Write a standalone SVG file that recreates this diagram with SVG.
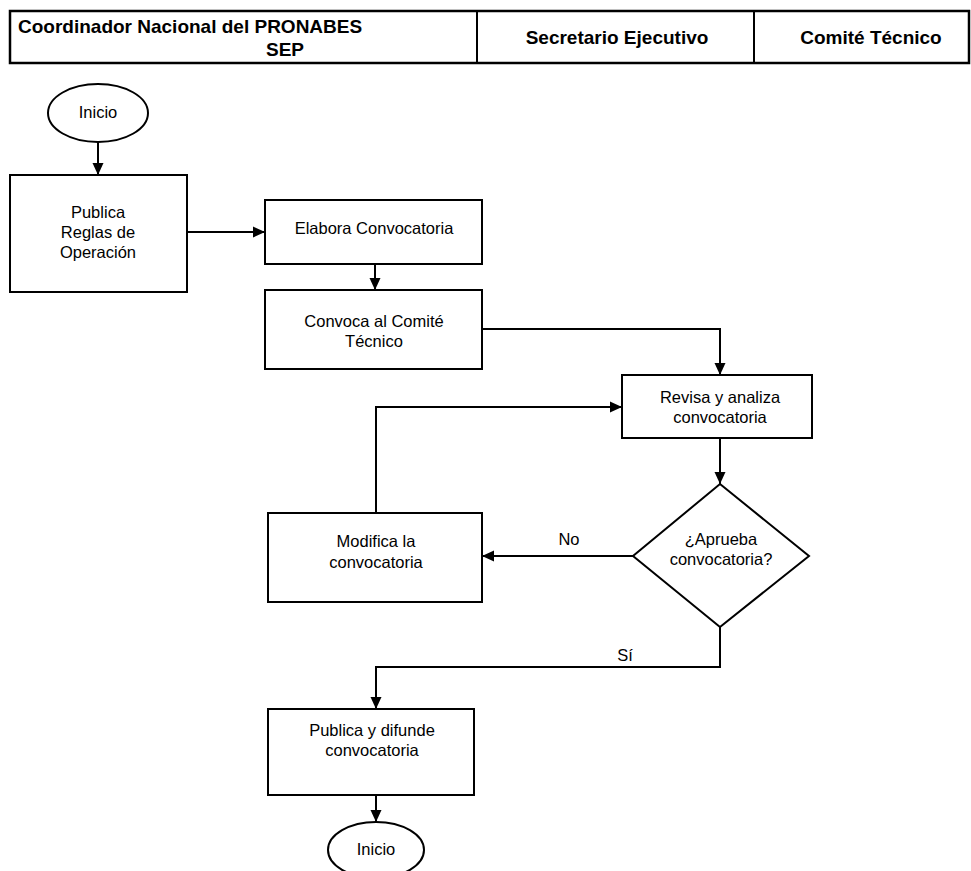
<svg xmlns="http://www.w3.org/2000/svg" width="971" height="871" viewBox="0 0 971 871">
<defs>
<marker id="ah" markerWidth="12" markerHeight="12" refX="12" refY="6" orient="auto" markerUnits="userSpaceOnUse"><path d="M0,0.5 L12,6 L0,11.5 Z" fill="#000"/></marker>
<style>
.box{fill:#fff;stroke:#000;stroke-width:2}
.t{font-family:"Liberation Sans",Arial,sans-serif;font-size:16.5px;fill:#000;text-anchor:middle}
.h{font-family:"Liberation Sans",Arial,sans-serif;font-size:19px;font-weight:bold;fill:#000}
.c{fill:none;stroke:#000;stroke-width:2}
</style>
</defs>
<rect width="971" height="871" fill="#fff"/>
<g id="header">
<rect x="10" y="11" width="959" height="52" fill="#fff" stroke="#000" stroke-width="2.5"/>
<line x1="477" y1="11" x2="477" y2="63" stroke="#000" stroke-width="2"/>
<line x1="754" y1="11" x2="754" y2="63" stroke="#000" stroke-width="2"/>
<text class="h" x="18" y="33">Coordinador Nacional del PRONABES</text>
<text class="h" x="266" y="56">SEP</text>
<text class="h" x="617" y="44" text-anchor="middle">Secretario Ejecutivo</text>
<text class="h" x="871" y="44" text-anchor="middle">Comité Técnico</text>
</g>
<g id="connectors">
<line class="c" x1="98" y1="142" x2="98" y2="175" marker-end="url(#ah)"/>
<line class="c" x1="187" y1="232" x2="265" y2="232" marker-end="url(#ah)"/>
<line class="c" x1="375" y1="264" x2="375" y2="290" marker-end="url(#ah)"/>
<polyline class="c" points="482,329 720,329 720,375" marker-end="url(#ah)"/>
<polyline class="c" points="376,513 376,407 622,407" marker-end="url(#ah)"/>
<line class="c" x1="720" y1="438" x2="720" y2="484" marker-end="url(#ah)"/>
<line class="c" x1="633" y1="556" x2="482" y2="556" marker-end="url(#ah)"/>
<polyline class="c" points="720,627 720,667 376,667 376,709" marker-end="url(#ah)"/>
<line class="c" x1="376" y1="795" x2="376" y2="822" marker-end="url(#ah)"/>
<text class="t" x="569" y="545">No</text>
<text class="t" x="625" y="661">Sí</text>
</g>
<g id="inicio1"><ellipse class="box" cx="98" cy="113" rx="50" ry="29"/><text class="t" x="98" y="118">Inicio</text></g>
<g id="publica"><rect class="box" x="10" y="175" width="177" height="117"/><text class="t" x="98" y="218">Publica</text><text class="t" x="98" y="238">Reglas de</text><text class="t" x="98" y="258">Operación</text></g>
<g id="elabora"><rect class="box" x="265" y="200" width="217" height="64"/><text class="t" x="374" y="234">Elabora Convocatoria</text></g>
<g id="convoca"><rect class="box" x="265" y="290" width="217" height="79"/><text class="t" x="374" y="327">Convoca al Comité</text><text class="t" x="374" y="347">Técnico</text></g>
<g id="revisa"><rect class="box" x="622" y="375" width="190" height="63"/><text class="t" x="720" y="403">Revisa y analiza</text><text class="t" x="720" y="423">convocatoria</text></g>
<g id="aprueba"><polygon class="box" points="720,484 809,556 720,627 633,556"/><text class="t" x="721" y="545">¿Aprueba</text><text class="t" x="721" y="565">convocatoria?</text></g>
<g id="modifica"><rect class="box" x="268" y="513" width="214" height="89"/><text class="t" x="376" y="547">Modifica la</text><text class="t" x="376" y="568">convocatoria</text></g>
<g id="difunde"><rect class="box" x="268" y="709" width="206" height="86"/><text class="t" x="372" y="736">Publica y difunde</text><text class="t" x="372" y="756">convocatoria</text></g>
<g id="inicio2"><ellipse class="box" cx="376" cy="850" rx="48" ry="28"/><text class="t" x="376" y="855">Inicio</text></g>
</svg>
